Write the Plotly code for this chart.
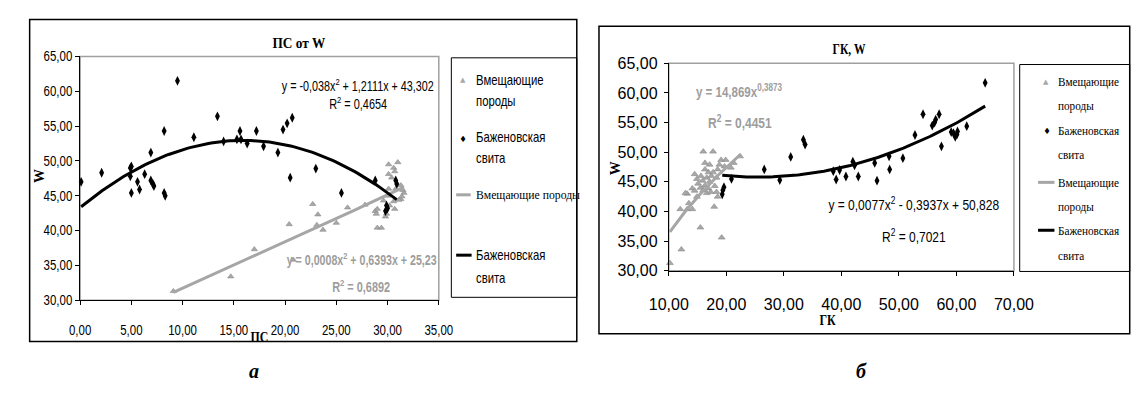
import json
import numpy as np
import plotly.graph_objects as go

W_PX, H_PX = 1142, 405

# ---------------- ПС vs W ----------------
ps_host_x = [9.1, 14.7, 17.0, 20.4, 20.8, 22.7, 23.2, 23.1, 23.7, 25.0, 26.1, 27.8,
             28.8, 28.9, 29.0, 29.4, 30.1, 31.0, 30.6, 30.1, 30.4, 30.7, 30.8, 31.5,
             31.6, 31.3, 30.6, 30.2, 30.7, 29.9, 29.0, 30.1, 31.3, 31.1, 31.4, 29.6,
             30.0, 29.8]
ps_host_y = [31.3, 33.4, 37.3, 40.9, 35.8, 43.8, 42.3, 40.8, 40.1, 41.1, 43.3, 43.7,
             42.8, 42.4, 40.4, 40.4, 49.5, 49.8, 49.0, 48.1, 47.6, 48.5, 46.0, 45.8,
             45.4, 44.5, 44.2, 43.6, 43.1, 42.4, 43.1, 46.0, 46.5, 44.4, 44.9, 44.3,
             45.0, 42.0]

ps_bazh_x = [0.1, 2.1, 4.9, 5.0, 4.9, 5.0, 5.6, 5.8, 6.3, 6.9, 6.9, 7.1, 7.2, 8.2,
             8.2, 8.3, 9.5, 11.1, 13.4, 14.0, 15.3, 15.6, 15.7, 16.3, 17.2, 17.9,
             19.3, 19.8, 20.2, 20.7, 20.5, 23.0, 25.5, 28.8, 30.8, 30.9, 29.9, 30.0,
             29.8]
ps_bazh_y = [47.0, 48.3, 49.0, 49.2, 47.8, 45.4, 47.0, 45.9, 48.1, 51.2, 47.2, 46.7,
             46.4, 54.3, 45.4, 45.0, 61.5, 53.4, 56.4, 52.8, 53.1, 54.3, 53.1, 52.5,
             54.3, 52.1, 51.2, 54.5, 55.4, 56.2, 47.6, 48.9, 45.4, 47.2, 47.2, 46.7,
             43.6, 43.2, 42.8]

# polynomial trends: a2, a1, a0
ps_host_coef = [0.0008, 0.6393, 25.23]
ps_host_r2 = "0,6892"
ps_bazh_coef = [-0.038, 1.2111, 43.302]
ps_bazh_r2 = "0,4654"

# ---------------- ГК vs W ----------------
gk_host_x = [10.2, 12.2, 15.5, 19.2, 17.9, 12.0, 13.2, 14.1, 13.5, 14.1, 14.5, 13.2,
             14.9, 14.5, 14.9, 15.6, 15.9, 15.1, 15.5, 16.3, 16.0, 16.6, 16.9, 17.3,
             17.1, 16.6, 16.9, 16.3, 17.4, 17.7, 18.3, 18.5, 18.8, 19.1, 19.7, 17.7,
             16.3, 17.1, 18.0, 18.3, 18.5, 22.4, 21.3, 19.9, 16.0, 20.8, 12.9]
gk_host_y = [31.3, 33.6, 37.3, 35.6, 40.8, 40.4, 40.4, 40.4, 41.4, 43.9, 43.5, 43.0,
             42.5, 46.3, 45.5, 46.0, 45.2, 44.7, 44.0, 44.4, 43.6, 43.1, 43.9, 43.3,
             45.0, 45.7, 46.6, 47.1, 46.0, 46.6, 45.7, 47.1, 47.9, 48.7, 47.6, 50.1,
             48.2, 47.9, 44.3, 43.3, 42.5, 49.3, 48.2, 48.7, 50.1, 47.4, 43.1]

gk_bazh_x = [19.3, 19.4, 19.6, 20.9, 26.6, 29.3, 31.2, 33.4, 33.7, 38.6, 39.1, 39.7,
             40.8, 42.0, 42.3, 42.95, 45.8, 46.2, 48.3, 48.4, 50.7, 52.8, 54.2, 55.8,
             56.2, 56.4, 57.0, 57.4, 59.1, 59.5, 59.8, 60.1, 60.2, 61.8, 65.0]
gk_bazh_y = [42.9, 43.6, 44.1, 45.5, 47.1, 45.3, 49.2, 52.1, 51.3, 46.8, 45.4, 47.0,
             45.9, 48.4, 47.8, 45.9, 48.2, 45.2, 49.3, 47.1, 49.0, 52.9, 56.4, 54.5,
             55.0, 55.5, 56.4, 51.0, 53.4, 53.2, 52.6, 53.0, 53.5, 54.4, 61.7]

# power trend: k * x^p
gk_host_pow = [14.869, 0.3873]
gk_host_r2 = "0,4451"
gk_bazh_coef = [0.0077, -0.3937, 50.828]
gk_bazh_r2 = "0,7021"

w_ticks = [30, 35, 40, 45, 50, 55, 60, 65]
ps_ticks = [0, 5, 10, 15, 20, 25, 30, 35]
gk_ticks = [10, 20, 30, 40, 50, 60, 70]

host_name = "Вмещающие породы"
bazh_name = "Баженовская свита"

# ---------------- styling ----------------
SANS = "Liberation Sans, Arial, sans-serif"
SERIF = "Liberation Serif, Times New Roman, serif"
GRAY_PT = "#a8a8a8"
GRAY_LN = "#a6a6a6"
GRAY_TXT = "#9d9d9d"

# horizontal squeeze of tick labels (narrow face look)
TICK_K_LEFT = 0.82
TICK_K_RIGHT = 0.72


def px(x):
    return x / W_PX


def py(y):
    return 1 - y / H_PX


def num(v):
    return f"{v:.5g}".replace(".", ",")


def poly_label(c):
    a2, a1, a0 = c
    s = f"y = {num(a2)}x<sup>2</sup>"
    s += (" + " if a1 >= 0 else " - ") + num(abs(a1)) + "x"
    s += (" + " if a0 >= 0 else " - ") + num(abs(a0))
    return s


def poly_curve(c, xs):
    xx = np.linspace(min(xs), max(xs), 120)
    return xx, np.polyval(c, xx)


fig = go.Figure()

# --- left panel
fig.add_trace(go.Scatter(x=ps_host_x, y=ps_host_y, mode="markers", name=host_name,
                         marker=dict(symbol="triangle-up", size=5.5, color=GRAY_PT,
                                     line=dict(color="#8a8a8a", width=0.6)),
                         cliponaxis=False, xaxis="x", yaxis="y"))
fig.add_trace(go.Scatter(x=ps_bazh_x, y=ps_bazh_y, mode="markers", name=bazh_name,
                         marker=dict(symbol="diamond-tall", size=7, color="black"),
                         cliponaxis=False, xaxis="x", yaxis="y"))
cx, cy = poly_curve(ps_host_coef, ps_host_x)
fig.add_trace(go.Scatter(x=cx, y=cy, mode="lines", name=host_name,
                         line=dict(color=GRAY_LN, width=3), xaxis="x", yaxis="y"))
cx, cy = poly_curve(ps_bazh_coef, ps_bazh_x)
fig.add_trace(go.Scatter(x=cx, y=cy, mode="lines", name=bazh_name,
                         line=dict(color="black", width=3), xaxis="x", yaxis="y"))

# --- right panel
fig.add_trace(go.Scatter(x=gk_host_x, y=gk_host_y, mode="markers", name=host_name,
                         marker=dict(symbol="triangle-up", size=6, color=GRAY_PT,
                                     line=dict(color="#8a8a8a", width=0.6)),
                         cliponaxis=False, xaxis="x2", yaxis="y2"))
fig.add_trace(go.Scatter(x=gk_bazh_x, y=gk_bazh_y, mode="markers", name=bazh_name,
                         marker=dict(symbol="diamond-tall", size=7, color="black"),
                         cliponaxis=False, xaxis="x2", yaxis="y2"))
gx = np.linspace(min(gk_host_x), max(gk_host_x), 120)
fig.add_trace(go.Scatter(x=gx, y=gk_host_pow[0] * gx ** gk_host_pow[1], mode="lines",
                         name=host_name, line=dict(color=GRAY_LN, width=3),
                         xaxis="x2", yaxis="y2"))
cx, cy = poly_curve(gk_bazh_coef, gk_bazh_x)
fig.add_trace(go.Scatter(x=cx, y=cy, mode="lines", name=bazh_name,
                         line=dict(color="black", width=3), xaxis="x2", yaxis="y2"))

axis_common = dict(showgrid=False, zeroline=False, showline=True, linecolor="black",
                   linewidth=1, ticks="outside", ticklen=4, tickcolor="black",
                   tickformat=".2f", fixedrange=True)

fig.update_layout(
    width=W_PX, height=H_PX, margin=dict(l=0, r=0, t=0, b=0),
    paper_bgcolor="white", plot_bgcolor="white", showlegend=False,
    separators=", ",
    xaxis=dict(domain=[px(62.3), px(434)], range=[0, 35], tickvals=ps_ticks,
               anchor="y", ticklabelstandoff=13,
               tickfont=dict(family=SANS, size=14, color="black"), **axis_common),
    yaxis=dict(domain=[py(305), py(50.6)], range=[30, 65], tickvals=w_ticks,
               anchor="x", tickfont=dict(family=SANS, size=14, color="black"),
               **axis_common),
    xaxis2=dict(domain=[px(672.3), px(1030)], range=[10, 70], tickvals=gk_ticks,
                anchor="y2", ticklabelstandoff=15,
                tickfont=dict(family=SANS, size=16, color="black"), **axis_common),
    yaxis2=dict(domain=[py(274.3), py(57.7)], range=[30, 65], tickvals=w_ticks,
                anchor="x2", ticklabelstandoff=3,
                tickfont=dict(family=SANS, size=16, color="black"), **axis_common),
)

shapes = []
# chart frames
shapes.append(dict(type="rect", xref="paper", yref="paper", x0=px(10), x1=px(577),
                   y0=py(348), y1=py(12), line=dict(color="black", width=1.5)))
shapes.append(dict(type="rect", xref="paper", yref="paper", x0=px(600), x1=px(1150),
                   y0=py(340), y1=py(19), line=dict(color="black", width=1.5)))
# plot-area borders
for xr, yr in (("x domain", "y domain"), ("x2 domain", "y2 domain")):
    shapes.append(dict(type="rect", xref=xr, yref=yr, x0=0, x1=1, y0=0, y1=1,
                       line=dict(color="#a0a0a0", width=1.5), layer="below"))
# legend boxes
shapes.append(dict(type="rect", xref="paper", yref="paper", x0=px(447), x1=px(577),
                   y0=py(302), y1=py(52), line=dict(color="black", width=1)))
shapes.append(dict(type="rect", xref="paper", yref="paper", x0=px(1036), x1=px(1150),
                   y0=py(275), y1=py(59), line=dict(color="black", width=1)))
# legend line keys
for x0, x1, y, col in ((452, 467, 195, GRAY_LN), (452, 468, 258, "black"),
                       (1055, 1072, 182, GRAY_LN), (1055, 1072, 232, "black")):
    shapes.append(dict(type="line", xref="paper", yref="paper", x0=px(x0), x1=px(x1),
                       y0=py(y), y1=py(y), line=dict(color=col, width=3)))

ann = []
ann_k = []


def text(x, y, s, size, family, color="black", xanchor="left", angle=0, k=1.0):
    align = {"left": "left", "right": "right", "center": "center"}[xanchor]
    ann.append(dict(x=px(x), y=py(y), xref="paper", yref="paper", text=s,
                    showarrow=False, xanchor=xanchor, yanchor="middle", align=align,
                    textangle=angle, borderpad=0,
                    font=dict(family=family, size=size, color=color)))
    ann_k.append(k)


# titles and axis titles
text(289, 37, "<b>ПС от W</b>", 14, SERIF, xanchor="center", k=0.95)
text(859, 43, "<b>ГК, W</b>", 14, SERIF, xanchor="center", k=0.82)
text(20, 175, "<b>W</b>", 14, SERIF, xanchor="center", angle=-90)
text(618, 167, "<b>W</b>", 14, SERIF, xanchor="center", angle=-90)
text(248, 344, "<b>ПС</b>", 14, SERIF, xanchor="center", k=0.85)
text(837, 326, "<b>ГК</b>", 14, SERIF, xanchor="center", k=0.85)
text(243, 379, "<b><i>а</i></b>", 20, SERIF, xanchor="center")
text(872, 379, "<b><i>б</i></b>", 20, SERIF, xanchor="center")

# trend equations
text(350, 80, poly_label(ps_bazh_coef), 14, SANS, xanchor="center", k=0.77)
text(351, 99, f"R<sup>2</sup> = {ps_bazh_r2}", 14, SANS, xanchor="center", k=0.78)
text(354, 262, "<b>" + poly_label(ps_host_coef) + "</b>", 14, SANS, GRAY_TXT,
     xanchor="center", k=0.76)
text(354, 290, f"<b>R<sup>2</sup> = {ps_host_r2}</b>", 14, SANS, GRAY_TXT,
     xanchor="center", k=0.78)
text(745, 86, f"<b>y = {num(gk_host_pow[0])}x<sup>{num(gk_host_pow[1])}</sup></b>",
     15, SANS, GRAY_TXT, xanchor="center", k=0.77)
text(746, 118, f"<b>R<sup>2</sup> = {gk_host_r2}</b>", 15, SANS, GRAY_TXT,
     xanchor="center", k=0.8)
text(926, 204, poly_label(gk_bazh_coef), 15, SANS, xanchor="center", k=0.8)
text(926, 237, f"R<sup>2</sup> = {gk_bazh_r2}", 15, SANS, xanchor="center", k=0.8)

# legend, left panel
text(459, 75, "▲", 7, "DejaVu Sans", GRAY_PT, xanchor="center")
text(460, 136, "◆", 8, "DejaVu Sans", "black", xanchor="center", k=0.75)
h1, h2 = host_name.split()
b1, b2 = bazh_name.split()
for y, s in ((75, h1), (97, h2), (135, b1), (157, b2), (258, b1), (282, b2)):
    text(472, y, s, 14, SANS, k=0.81)
text(471, 195, host_name, 13, SERIF, k=0.9)

# legend, right panel
text(1063, 77, "▲", 7, "DejaVu Sans", GRAY_PT, xanchor="center")
text(1065, 128, "◆", 8, "DejaVu Sans", "black", xanchor="center", k=0.75)
for y, s in ((77, h1), (102, h2), (128, b1), (153, b2), (182, h1), (207, h2),
             (232, b1), (258, b2)):
    text(1075, y, s, 13.5, SERIF, k=0.83)

fig.update_layout(shapes=shapes, annotations=ann)

# narrow the glyphs horizontally around each text's anchor point
squeeze_js = """
var gd = document.getElementById('{plot_id}');
var annK = %s;
function squeeze(t, k) {
  if (!t || k === 1) return;
  var xa = parseFloat(t.getAttribute('x')) || 0;
  var tr = t.getAttribute('transform') || '';
  t.setAttribute('transform', tr + ' translate(' + xa + ',0) scale(' + k + ',1) translate(' + (-xa) + ',0)');
}
gd.querySelectorAll('g.annotation').forEach(function (g) {
  var i = parseInt(g.getAttribute('data-index'), 10);
  squeeze(g.querySelector('text'), annK[i]);
});
var tickK = {'xy': %s, 'x2y2': %s};
Object.keys(tickK).forEach(function (sp) {
  gd.querySelectorAll('.subplot.' + sp + ' .xtick text, .subplot.' + sp + ' .ytick text')
    .forEach(function (t) { squeeze(t, tickK[sp]); });
});
""" % (json.dumps(ann_k), TICK_K_LEFT, TICK_K_RIGHT)

fig.write_html("out.html", post_script=squeeze_js)
